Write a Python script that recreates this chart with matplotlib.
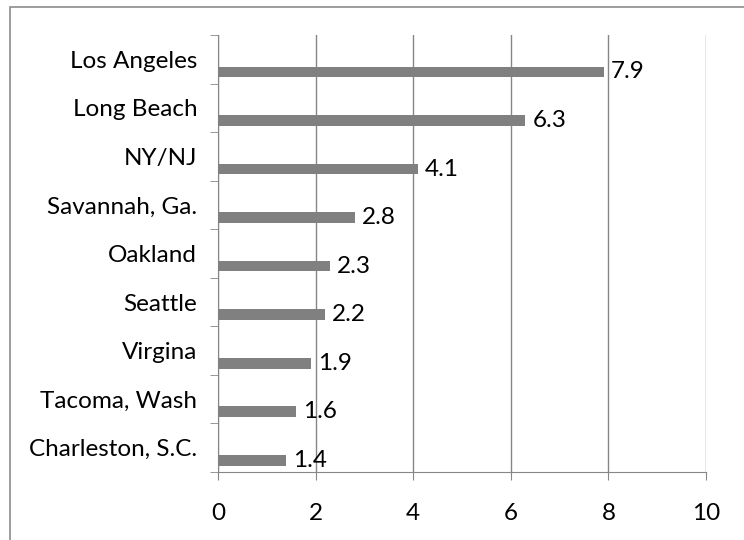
import matplotlib
matplotlib.use("Agg")
import matplotlib.pyplot as plt
from matplotlib.patches import Rectangle
import numpy as np

# ports, top to bottom as shown
ports = ["Los Angeles", "Long Beach", "NY/NJ", "Savannah, Ga.", "Oakland",
         "Seattle", "Virgina", "Tacoma, Wash", "Charleston, S.C."]
values = [7.9, 6.3, 4.1, 2.8, 2.3, 2.2, 1.9, 1.6, 1.4]
xticks = [0, 2, 4, 6, 8, 10]

plt.rcParams['font.family'] = ['Lato', 'DejaVu Sans']
fs = 17.5

fig = plt.figure(figsize=(7.44, 5.4), dpi=100)
ax = fig.add_axes([218 / 744, 1 - 472 / 540, (706 - 218) / 744, (472 - 35) / 540])

# outer chart border (cut off on the right and bottom like the reference)
fig.patches.append(Rectangle((10 / 744, -0.1), 1.2, (533 / 540) + 0.1,
                             transform=fig.transFigure, fill=False,
                             edgecolor="#8c8c8c", linewidth=1.2))

n = len(ports)
pos = np.arange(n)[::-1]  # first port on top
bar_offset = -0.26
ax.barh(pos + bar_offset, values, height=0.22, color="#808080", zorder=3)

for p, v in zip(pos, values):
    ax.annotate(f"{v:.1f}", (v, p + bar_offset), xytext=(5, 0),
                textcoords="offset points", va="center", ha="left",
                fontsize=fs, color="black")

ax.set_xlim(0, 10)
ax.set_ylim(-0.5, n - 0.5)
ax.set_xticks(xticks)
ax.set_xticklabels([str(t) for t in xticks], fontsize=fs)
ax.set_yticks(pos)
ax.set_yticklabels(ports, fontsize=fs)
ax.set_yticks(np.arange(-0.5, n, 1.0), minor=True)

ax.tick_params(axis="y", which="major", length=0, pad=15)
ax.tick_params(axis="y", which="minor", length=6, color="#868686")
ax.tick_params(axis="x", which="major", length=6, color="#868686", pad=16)

ax.grid(axis="x", color="#868686", linewidth=1, zorder=0)
for side in ["top", "right"]:
    ax.spines[side].set_visible(False)
for side in ["left", "bottom"]:
    ax.spines[side].set_color("#868686")

fig.savefig("out.png", dpi=100)
